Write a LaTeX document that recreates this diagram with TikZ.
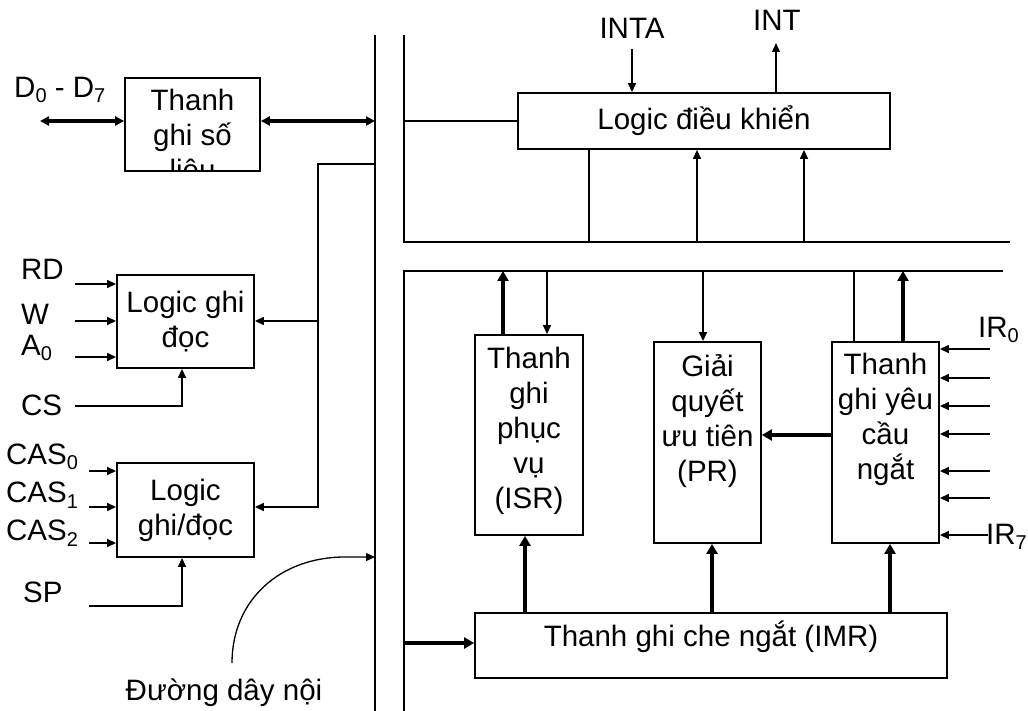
\documentclass[tikz,border=0pt]{standalone}
\usepackage{fontspec}
\setmainfont{Liberation Sans}
\usetikzlibrary{arrows.meta}
\newcommand\lowsub[1]{\raisebox{-0.35ex}{\fontsize{20}{20}\selectfont #1}}
\begin{document}
\begin{tikzpicture}[x=1pt,y=-1pt,
  font=\fontsize{29.5}{35}\selectfont,
  box/.style={draw, line width=1.8pt, inner sep=0pt, align=center},
  txt/.style={inner sep=0pt, align=center},
  ln/.style={line width=1.3pt},
  bus/.style={line width=2.2pt},
  fat/.style={line width=4.5pt},
  dbl/.style={line width=3.2pt},
  tip/.style={-{Triangle[length=9pt,width=8pt]}},
  fattip/.style={-{Triangle[length=10pt,width=11pt]}},
  tips/.style={{Triangle[length=9pt,width=9pt]}-{Triangle[length=9pt,width=9pt]}},
]
\useasboundingbox (0,0) rectangle (1028,711);

% ---------- boxes ----------
\node[box, minimum width=135pt, minimum height=93pt] (dreg) at (192.5,124.5) {};
\node[box, minimum width=137pt, minimum height=93pt] (rw) at (185.5,321.5) {Logic ghi\\đọc};
\node[box, minimum width=137pt, minimum height=94pt] (cas) at (185.5,510) {Logic\\ghi/đọc};
\node[box, minimum width=372pt, minimum height=56pt] (ctrl) at (704,121) {Logic điều khiển};
\node[box, minimum width=108pt, minimum height=200pt] (isr) at (529,435) {};
\node[box, minimum width=107pt, minimum height=201pt] (pr) at (707.5,442.5) {};
\node[box, minimum width=107pt, minimum height=201pt] (irr) at (885.5,442.5) {};
\node[box, minimum width=472pt, minimum height=65pt] (imr) at (711,645.5) {};

\begin{scope}
  \clip (dreg.south west) rectangle (dreg.north east);
  \node[txt] (dregt) at (192.5,137) {Thanh\\ghi số\\liệu};
\end{scope}
\node[txt] (isrt) at (529,431) {Thanh\\ghi\\phục\\vụ\\(ISR)};
\node[txt] (prt) at (707.5,421) {Giải\\quyết\\ưu tiên\\(PR)};
\node[txt] (irrt) at (885.5,419) {Thanh\\ghi yêu\\cầu\\ngắt};
\node[txt] (imrt) at (711,637) {Thanh ghi che ngắt (IMR)};

% ---------- labels ----------
\node[txt, anchor=west] (dlab) at (14,90) {D\lowsub{0} - D\lowsub{7}};
\node[txt, anchor=west] (rd) at (21,269) {RD};
\node[txt, anchor=west] (w) at (21,314) {W};
\node[txt, anchor=west] (a0) at (21,348) {A\lowsub{0}};
\node[txt, anchor=west] (cs) at (21,405) {CS};
\node[txt, anchor=west] (cas0) at (6,457) {CAS\lowsub{0}};
\node[txt, anchor=west] (cas1) at (6,495) {CAS\lowsub{1}};
\node[txt, anchor=west] (cas2) at (6,533) {CAS\lowsub{2}};
\node[txt, anchor=west] (sp) at (23,592) {SP};
\node[txt] (dd) at (224,693) {Đường dây nội};
\node[txt] (inta) at (632,28) {INTA};
\node[txt] (int) at (777,20) {INT};
\node[txt, anchor=west] (ir0) at (978,330) {IR\lowsub{0}};
\node[txt, anchor=west] (ir7) at (986,537) {IR\lowsub{7}};

% ---------- buses ----------
\coordinate (b1) at (375,35);
\coordinate (b2) at (375,711);
\draw[bus] (b1) -- (b2);
\coordinate (t1) at (404,35);
\coordinate (t2) at (404,242);
\coordinate (t3) at (1010,242);
\draw[bus] (t1) -- (t2) -- (t3);
\coordinate (s1) at (1003,271);
\coordinate (s2) at (404,271);
\coordinate (s3) at (404,711);
\draw[bus] (s1) -- (s2) -- (s3);

% ---------- data register ----------
\coordinate (dl) at (40,121);
\coordinate (br) at (375,121);
\draw[dbl,tips] (dl) -- (dreg.west |- dl);
\draw[dbl,tips] (dreg.east |- br) -- (br);

% ---------- feed to logic blocks ----------
\coordinate (f0) at (375,164);
\coordinate (f1) at (318,164);
\coordinate (f2) at (318,507);
\coordinate (f3) at (318,321);
\draw[ln,tip] (f0) -- (f1) -- (f2) -- (cas.east |- f2);
\draw[ln,tip] (f3) -- (rw.east |- f3);

% ---------- inputs to read/write logic ----------
\foreach \n/\y in {rdi/284, wi/321, ai/357}{
  \coordinate (\n) at (75,\y);
  \draw[ln,tip] (\n) -- (\n -| rw.west);
}
\coordinate (csin) at (75,406);
\coordinate (csk) at (182,406);
\draw[ln,tip] (csin) -- (csk) -- (csk |- rw.south);

\foreach \n/\y in {c0/471, c1/507, c2/543}{
  \coordinate (\n) at (89,\y);
  \draw[ln,tip] (\n) -- (\n -| cas.west);
}
\coordinate (spin) at (89,606);
\coordinate (spk) at (182,606);
\draw[ln,tip] (spin) -- (spk) -- (spk |- cas.south);

% ---------- internal bus pointer ----------
\coordinate (a0s) at (232,663);
\coordinate (a0e) at (375,557);
\draw[ln,tip] (a0s) .. controls (232,600) and (280,557) .. (345,557) -- (a0e);

% ---------- control logic ----------
\coordinate (cl) at (404,121);
\draw[ln] (cl) -- (ctrl.west |- cl);
\coordinate (intas) at (632,49);
\draw[ln,tip] (intas) -- (intas |- ctrl.north);
\coordinate (intt) at (776,43);
\draw[ln,tip] (intt |- ctrl.north) -- (intt);
\coordinate (u1) at (589,242);
\coordinate (u2) at (697,242);
\coordinate (u3) at (804,242);
\draw[ln] (u1) -- (u1 |- ctrl.south);
\draw[ln,tip] (u2) -- (u2 |- ctrl.south);
\draw[ln,tip] (u3) -- (u3 |- ctrl.south);

% ---------- lower section ----------
\coordinate (l1) at (503,271);
\coordinate (l2) at (547,271);
\coordinate (l3) at (703,271);
\coordinate (l4) at (854,271);
\coordinate (l5) at (903,271);
\draw[fat,fattip] (l1 |- isr.north) -- (l1);
\draw[ln,tip] (l2) -- (l2 |- isr.north);
\draw[ln,tip] (l3) -- (l3 |- pr.north);
\draw[ln] (l4) -- (l4 |- irr.north);
\draw[fat,fattip] (l5 |- irr.north) -- (l5);

\coordinate (m) at (800,435);
\draw[fat,fattip] (m -| irr.west) -- (m -| pr.east);

\foreach \n/\y in {i0/349, i1/378, i2/406, i3/434, i4/471, i5/498}{
  \coordinate (\n) at (990,\y);
  \draw[ln,tip] (\n) -- (\n -| irr.east);
}
\coordinate (i7) at (988,535);
\draw[ln,tip] (i7) -- (i7 -| irr.east);

\coordinate (k1) at (525,600);
\coordinate (k2) at (712,600);
\coordinate (k3) at (890,600);
\draw[fat,fattip] (k1 |- imr.north) -- (k1 |- isr.south);
\draw[fat,fattip] (k2 |- imr.north) -- (k2 |- pr.south);
\draw[fat,fattip] (k3 |- imr.north) -- (k3 |- irr.south);
\coordinate (k0) at (404,643);
\draw[fat,fattip] (k0) -- (k0 -| imr.west);
\end{tikzpicture}
\end{document}
